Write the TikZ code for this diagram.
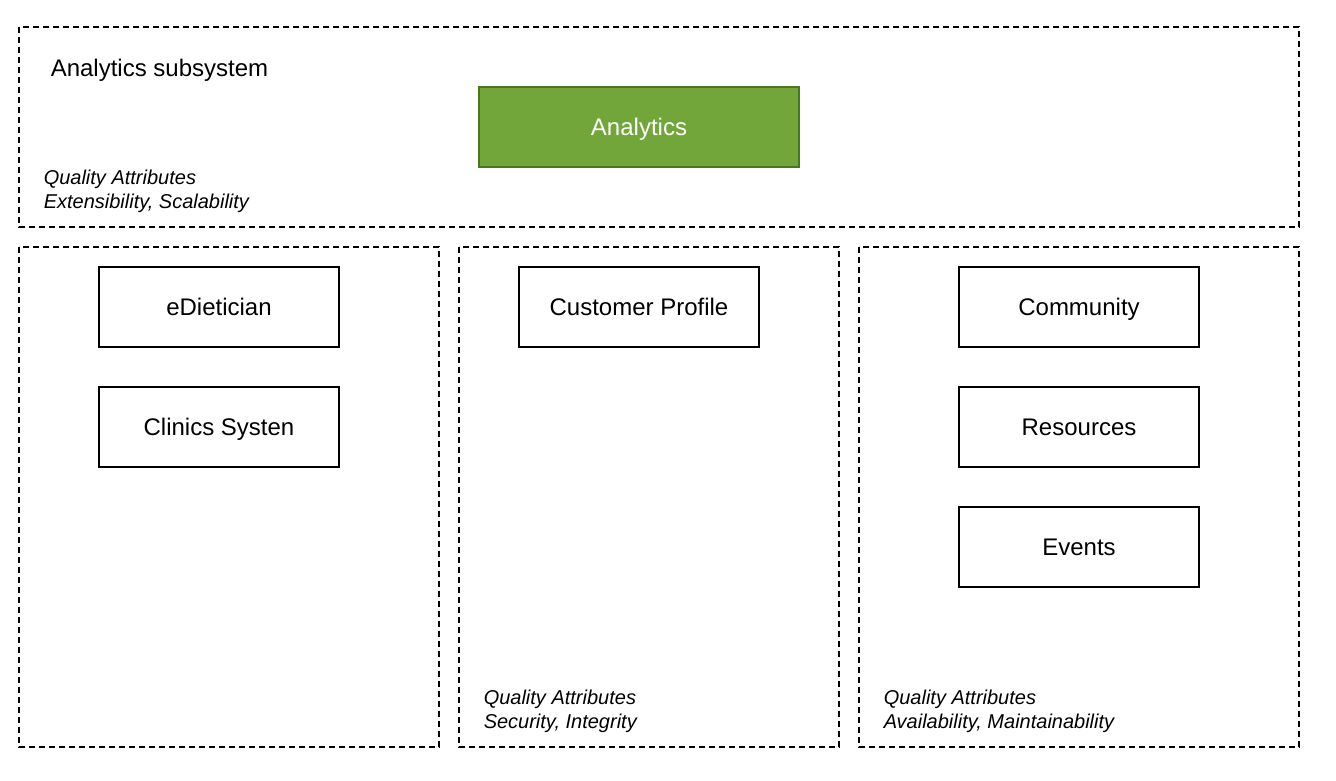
\documentclass[tikz,border=0pt]{standalone}
\usepackage{fontspec}
\setmainfont{Liberation Sans}
\usepackage{tikz}
\usetikzlibrary{positioning}

\definecolor{anafill}{RGB}{115,166,58}
\definecolor{anadraw}{RGB}{72,120,30}

\begin{document}
\begin{tikzpicture}[
  x=1pt, y=-1pt,
  line width=1.5pt,
  group box/.style={draw, dash pattern=on 6pt off 4pt, line width=1.4pt},
  main node/.style={draw, rectangle, minimum width=240pt, minimum height=80pt,
    inner sep=0pt, outer sep=0pt, text height=17pt, text depth=0pt,
    font=\fontsize{24}{28}\selectfont},
  qa text/.style={anchor=north west, align=left, inner sep=0pt,
    font=\fontsize{20}{24}\selectfont\itshape},
]
  \useasboundingbox (0,0) rectangle (1336,780);

  % Dashed subsystem frames
  \draw[group box] (19,27) rectangle (1299,227);
  \draw[group box] (19,247) rectangle (439,747);
  \draw[group box] (459,247) rectangle (839,747);
  \draw[group box] (859,247) rectangle (1299,747);

  % Analytics subsystem
  \node[anchor=west, inner sep=0pt, font=\fontsize{24}{28}\selectfont]
    (title) at (50,70) {Analytics subsystem};
  \node[main node, minimum width=320pt, fill=anafill, draw=anadraw,
    text=white] (analytics) at (639,127) {Analytics};
  \node[qa text] (qa1) at (43,169) {Quality Attributes\\Extensibility, Scalability};

  % Left column
  \node[main node] (edietician) at (219,307) {eDietician};
  \node[main node, below=40pt of edietician] (clinics) {Clinics Systen};

  % Middle column
  \node[main node] (profile) at (639,307) {Customer Profile};
  \node[qa text] (qa2) at (483,689) {Quality Attributes\\Security, Integrity};

  % Right column
  \node[main node] (community) at (1079,307) {Community};
  \node[main node, below=40pt of community] (resources) {Resources};
  \node[main node, below=40pt of resources] (events) {Events};
  \node[qa text] (qa3) at (883,689) {Quality Attributes\\Availability, Maintainability};
\end{tikzpicture}
\end{document}
